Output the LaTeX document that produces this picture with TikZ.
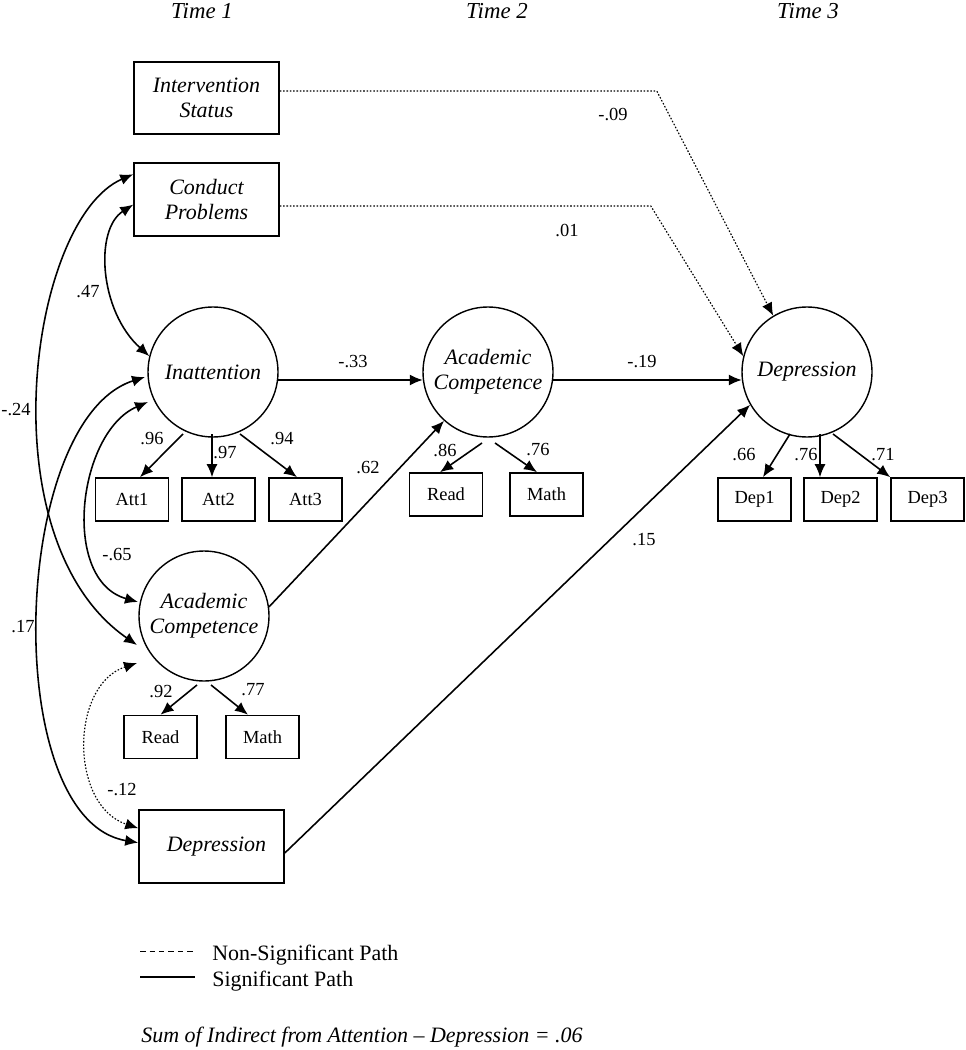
\documentclass[tikz,border=0pt]{standalone}
\usepackage{fontspec}
\setmainfont{Liberation Serif}
\usetikzlibrary{arrows.meta}

\begin{document}
\begin{tikzpicture}
[x=0.02cm, y=-0.02cm,
every node/.style={inner sep=0pt},
latent/.style={draw, circle, minimum size=2.6cm, align=center, line width=0.8pt, font=\fontsize{12.5}{14.2}\selectfont\itshape},
obsbox/.style={draw, minimum width=2.9cm, minimum height=1.45cm, align=center, line width=0.9pt, font=\fontsize{12.5}{14.2}\selectfont\itshape},
indbox/.style={draw, minimum width=1.46cm, minimum height=0.86cm, line width=0.9pt, font=\fontsize{10.5}{12}\selectfont},
coef/.style={font=\fontsize{10.5}{12}\selectfont},
timelbl/.style={font=\fontsize{13}{15}\selectfont\itshape},
legend/.style={anchor=west, font=\fontsize{12.5}{14}\selectfont},
sig/.style={-{Latex[length=2.6mm,width=2.2mm]}, line width=0.9pt},
nonsig/.style={sig, densely dotted, line width=0.65pt},
corr/.style={{Latex[length=2.6mm,width=2.2mm]}-{Latex[length=2.6mm,width=2.2mm]}, line width=0.9pt},
]
\useasboundingbox (0,0) rectangle (965,1050);

\node[timelbl] (time1) at (202,11) {Time 1};
\node[timelbl] (time2) at (497,11) {Time 2};
\node[timelbl] (time3) at (808,11) {Time 3};

\node[obsbox] (interv) at (206.5,98) {Intervention\\Status};
\node[obsbox] (conduct) at (206.5,199.5) {Conduct\\Problems};
\node[latent] (inatt) at (213,372) {Inattention};
\node[latent] (acadA) at (204,616) {Academic\\Competence};
\node[obsbox] (deprA) at (211.5,846.5) {\hspace*{0.2cm}Depression};
\node[latent] (acadB) at (488,372) {Academic\\Competence};
\node[latent] (deprC) at (807,372) {Depression};

\node[indbox] (att1) at (132,499.5) {Att1};
\node[indbox] (att2) at (218.5,499.5) {Att2};
\node[indbox] (att3) at (305.5,499.5) {Att3};
\node[indbox] (read1) at (160.5,737) {Read};
\node[indbox] (math1) at (262.5,737) {Math};
\node[indbox] (read2) at (446,494.5) {Read};
\node[indbox] (math2) at (546.5,494.5) {Math};
\node[indbox] (dep1) at (754.5,499.5) {Dep1};
\node[indbox] (dep2) at (840.5,499.5) {Dep2};
\node[indbox] (dep3) at (927.5,499.5) {Dep3};

\draw[sig] ([shift={(-30,62)}]inatt.center) -- ([shift={(8,0)}]att1.north);
\draw[sig] ([shift={(-1,62)}]inatt.center) -- ([shift={(-6.5,0)}]att2.north);
\draw[sig] ([shift={(27,62)}]inatt.center) -- ([shift={(-8.5,0)}]att3.north);
\draw[sig] ([shift={(-7,69)}]acadA.center) -- (read1.north);
\draw[sig] ([shift={(7,69)}]acadA.center) -- ([shift={(-14.5,0)}]math1.north);
\draw[sig] ([shift={(-6,71)}]acadB.center) -- ([shift={(-6,0)}]read2.north);
\draw[sig] ([shift={(7,71)}]acadB.center) -- ([shift={(-9.5,0)}]math2.north);
\draw[sig] ([shift={(-17,62)}]deprC.center) -- ([shift={(8.5,0)}]dep1.north);
\draw[sig] ([shift={(13,62)}]deprC.center) -- ([shift={(-20.5,0)}]dep2.north);
\draw[sig] ([shift={(26,62)}]deprC.center) -- (dep3.north west);

\draw[sig] (inatt.-7) -- (acadB.187);
\draw[sig] (acadB.-7) -- (deprC.187);
\draw[sig] (acadA.8) -- (acadB.228);
\draw[sig] ([shift={(0,6.5)}]deprA.east) -- (deprC.210);
\draw[nonsig] ([shift={(0,-7)}]interv.east) -- ++(377,0) -- (deprC.121);
\draw[nonsig] ([shift={(0,6.5)}]conduct.east) -- ++(371,0) -- (deprC.166);

\draw[corr] (conduct.184) .. controls +(-39,25) and +(-50,-45) .. (inatt.166);
\draw[corr] (conduct.161) .. controls +(-104,45) and +(-152,-105) .. ([shift={(-67,29)}]acadA.center);
\draw[corr] ([shift={(-68,5)}]inatt.center) .. controls +(-135,43) and +(-139,-23) .. (deprA.177);
\draw[corr] ([shift={(-65,30)}]inatt.center) .. controls +(-70,30) and +(-78,-22) .. ([shift={(-66,-14)}]acadA.center);
\draw[corr, densely dotted, line width=0.65pt] ([shift={(-67,47)}]acadA.center) .. controls +(-67,22) and +(-69,-23) .. (deprA.166);

\node[coef] (c47) at (88,292) {.47};
\node[coef] (c24) at (16,410) {-.24};
\node[coef] (c17) at (23,627) {.17};
\node[coef] (c65) at (117,555) {-.65};
\node[coef] (c12) at (122,790) {-.12};
\node[coef] (l96) at (152,439) {.96};
\node[coef] (l97) at (225,453) {.97};
\node[coef] (l94) at (282,439) {.94};
\node[coef] (b33) at (353,362) {-.33};
\node[coef] (b62) at (368,468) {.62};
\node[coef] (l86) at (445,450) {.86};
\node[coef] (l76a) at (538,450) {.76};
\node[coef] (l92) at (161,692) {.92};
\node[coef] (l77) at (253,690) {.77};
\node[coef] (b19) at (642,362) {-.19};
\node[coef] (l66) at (744,455) {.66};
\node[coef] (l76b) at (806,455) {.76};
\node[coef] (l71) at (883,455) {.71};
\node[coef] (b15) at (644,540) {.15};
\node[coef] (b09) at (613,115) {-.09};
\node[coef] (b01) at (567,230) {.01};

\node[legend] (lgns) at (212,955) {Non-Significant Path};
\node[legend] (lgs) at (212,981) {Significant Path};
\draw[line width=0.5pt, dash pattern=on 0.11cm off 0.08cm] ([shift={(-72,-4)}]lgns.west) -- ++(55,0);
\draw[line width=0.6pt] ([shift={(-72,-4)}]lgs.west) -- ++(55,0);
\node[legend, font=\fontsize{12.5}{14}\selectfont\itshape] (sumind) at (141,1037) {Sum of Indirect from Attention -- Depression = .06};
\end{tikzpicture}
\end{document}
